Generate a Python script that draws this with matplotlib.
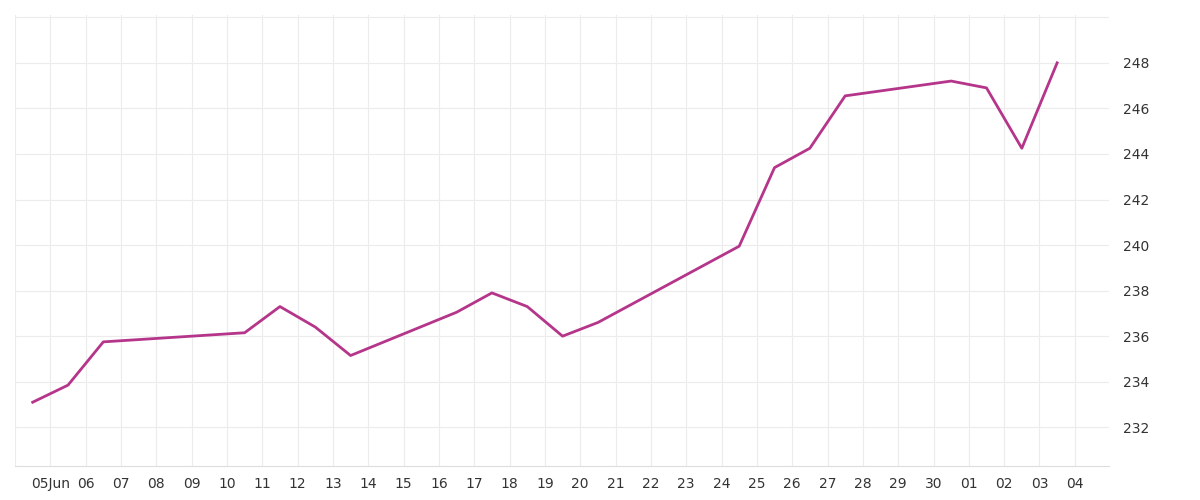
import matplotlib
matplotlib.use("Agg")
import matplotlib.pyplot as plt
import matplotlib.dates as mdates
import pandas as pd

dates = ["2024-06-04 12:00","2024-06-05 12:00","2024-06-06 12:00","2024-06-10 12:00","2024-06-11 12:00",
         "2024-06-12 12:00","2024-06-13 12:00","2024-06-16 12:00","2024-06-17 12:00","2024-06-18 12:00",
         "2024-06-19 12:00","2024-06-20 12:00","2024-06-24 12:00","2024-06-25 12:00","2024-06-26 12:00",
         "2024-06-27 12:00","2024-06-30 12:00","2024-07-01 12:00","2024-07-02 12:00","2024-07-03 12:00"]
values = [233.1,233.85,235.75,236.15,237.3,236.4,235.15,237.05,237.9,237.3,
          236.0,236.6,239.95,243.4,244.25,246.55,247.2,246.9,244.25,248.0]

x = pd.to_datetime(dates)
fig = plt.figure(figsize=(12,5), dpi=100)
ax = fig.add_axes([0.0125, 0.068, 0.912, 0.902])
ax.plot(x, values, color="#b5358a", lw=2)
ax.set_xlim(pd.Timestamp("2024-06-04 00:00"), pd.Timestamp("2024-07-04 23:30"))
ax.set_ylim(230.3, 250.1)
ax.yaxis.tick_right()
ax.set_yticks(range(232, 250, 2))
ax.set_yticks([250], minor=True)
ax.set_xticks(pd.date_range("2024-06-05", "2024-07-04", freq="D"))
ax.set_xticks([pd.Timestamp("2024-06-04")], minor=True)
def fmt(v, pos):
    d = mdates.num2date(v)
    return d.strftime("%d%b") if (d.day == 5 and d.month == 6) else d.strftime("%d")
ax.xaxis.set_major_formatter(matplotlib.ticker.FuncFormatter(fmt))
ax.grid(True, which="both", color="#ececec", lw=0.8)
for s in ["top","right","left"]:
    ax.spines[s].set_visible(False)
ax.spines["bottom"].set_color("#dddddd")
ax.tick_params(which="both", length=0, labelsize=10, colors="#333333", pad=8)
ax.tick_params(axis="y", pad=10)
fig.savefig("out.png")
